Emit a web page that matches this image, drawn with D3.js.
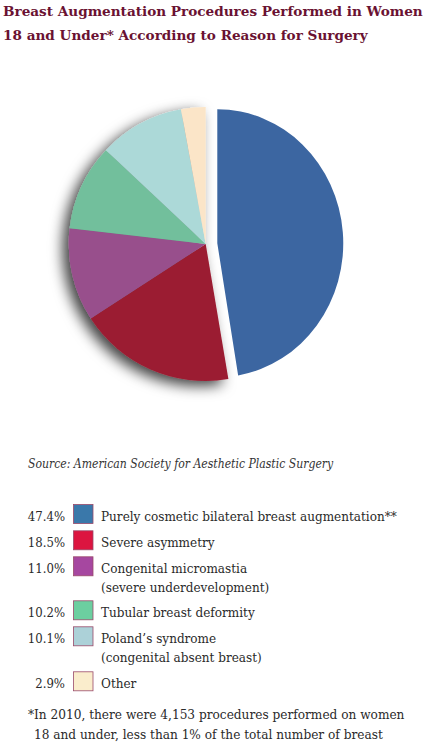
<!DOCTYPE html>
<html>
<head>
<meta charset="utf-8">
<script src="https://cdn.jsdelivr.net/npm/d3@7"></script>
<style>
    body { margin: 0; background: #fff; }
    svg { display: block; }
</style>
</head>
<body>
<div id="chart"></div>
<script>
// Chart data
const categories = [
    ["Purely cosmetic bilateral breast augmentation**"],
    ["Severe asymmetry"],
    ["Congenital micromastia", "(severe underdevelopment)"],
    ["Tubular breast deformity"],
    ["Poland\u2019s syndrome", "(congenital absent breast)"],
    ["Other"]
];
const percentages = [47.4, 18.5, 11.0, 10.2, 10.1, 2.9];
const sliceColors = ["#3c66a1", "#9b1c32", "#98508c", "#72bf9c", "#acd9d8", "#fbe5c8"];
const swatchColors = ["#3a78aa", "#dc1540", "#a647a0", "#6ccfa0", "#acd1d8", "#faedcc"];
const titleLines = [
    "Breast Augmentation Procedures Performed in Women",
    "18 and Under* According to Reason for Surgery"
];
const sourceText = "Source: American Society for Aesthetic Plastic Surgery";
const footnoteLines = [
    "*In 2010, there were 4,153 procedures performed on women",
    "18 and under, less than 1% of the total number of breast"
];

const width = 426, height = 750;
const serif = "'DejaVu Serif Condensed', 'DejaVu Serif', serif";
const titleFont = "'DejaVu Serif', serif";

const svg = d3.select("#chart").append("svg")
    .attr("width", width)
    .attr("height", height);

// Drop shadow for the pie body
const defs = svg.append("defs");
const shadow = defs.append("filter")
    .attr("id", "pieShadow")
    .attr("x", "-30%").attr("y", "-30%")
    .attr("width", "160%").attr("height", "160%");
shadow.append("feDropShadow")
    .attr("dx", -6).attr("dy", 5)
    .attr("stdDeviation", 7)
    .attr("flood-color", "#000")
    .attr("flood-opacity", 0.75);

// Title
svg.append("g").selectAll("text")
    .data(titleLines)
    .enter()
    .append("text")
    .attr("x", 3)
    .attr("y", (d, i) => 16 + i * 23.5)
    .attr("font-family", titleFont)
    .attr("font-weight", "bold")
    .attr("font-size", 13.6)
    .attr("fill", "#6a1232")
    .text(d => d);

// Pie
const data = percentages.map((v, i) => ({ value: v, index: i }));
const pie = d3.pie().sort(null).value(d => d.value);
const arcs = pie(data);
const radius = 137;
const arc = d3.arc().innerRadius(0).outerRadius(radius);

const cx = 205.7, cy = 244;
const pieBody = svg.append("g")
    .attr("transform", `translate(${cx},${cy})`)
    .attr("filter", "url(#pieShadow)");

pieBody.selectAll("path")
    .data(arcs.slice(1))
    .enter()
    .append("path")
    .attr("d", arc)
    .attr("fill", d => sliceColors[d.data.index]);

// Exploded first slice
const blueArc = d3.arc().innerRadius(0).outerRadius(134);
svg.append("g")
    .attr("transform", `translate(${cx + 11.6},${cy - 0.7}) scale(0.94,1)`)
    .append("path")
    .attr("d", blueArc(arcs[0]))
    .attr("fill", sliceColors[0]);

// Source line
svg.append("text")
    .attr("x", 28)
    .attr("y", 468)
    .attr("font-family", serif)
    .attr("font-style", "italic")
    .attr("font-size", 12.1)
    .attr("fill", "#333")
    .text(sourceText);

// Legend
const rowY = [521, 547.3, 573.3, 617.3, 643.3, 688.3];
const legend = svg.append("g");
const rows = legend.selectAll("g")
    .data(categories)
    .enter()
    .append("g")
    .attr("transform", (d, i) => `translate(0,${rowY[i]})`);

rows.append("text")
    .attr("x", 65)
    .attr("text-anchor", "end")
    .attr("font-family", serif)
    .attr("font-size", 13)
    .attr("fill", "#2a2a2a")
    .text((d, i) => percentages[i].toFixed(1) + "%");

rows.append("rect")
    .attr("x", 73.5)
    .attr("y", -16.5)
    .attr("width", 19.5)
    .attr("height", 19)
    .attr("fill", (d, i) => swatchColors[i])
    .attr("stroke", "#9a4a6a")
    .attr("stroke-width", 0.8);

rows.each(function(lines) {
    d3.select(this).selectAll("text.label")
        .data(lines)
        .enter()
        .append("text")
        .attr("class", "label")
        .attr("x", 101)
        .attr("y", (d, i) => i * 19)
        .attr("font-family", serif)
        .attr("font-size", 13.4)
        .attr("fill", "#2a2a2a")
        .text(d => d);
});

// Footnote
svg.append("g").selectAll("text")
    .data(footnoteLines)
    .enter()
    .append("text")
    .attr("x", (d, i) => i === 0 ? 28 : 34)
    .attr("y", (d, i) => 719.3 + i * 20)
    .attr("font-family", serif)
    .attr("font-size", 13.5)
    .attr("fill", "#2a2a2a")
    .text(d => d);
</script>
</body>
</html>
